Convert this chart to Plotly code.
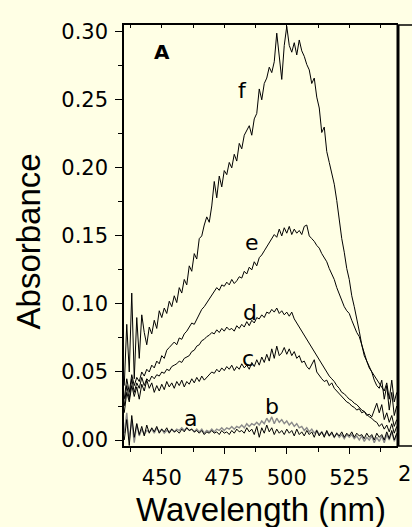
import plotly.graph_objects as go

wavelength = list(range(435, 545))

abs_f = [0.040, 0.085, 0.050, 0.108, 0.045, 0.090, 0.060, 0.092, 0.079, 0.070,
         0.083, 0.078, 0.088, 0.082, 0.095, 0.090, 0.097, 0.093, 0.102, 0.098,
         0.106, 0.101, 0.112, 0.108, 0.118, 0.114, 0.128, 0.124, 0.137, 0.133,
         0.148, 0.150, 0.158, 0.164, 0.160, 0.172, 0.190, 0.178, 0.194, 0.186,
         0.198, 0.195, 0.204, 0.200, 0.210, 0.205, 0.218, 0.214, 0.224, 0.228,
         0.231, 0.224, 0.236, 0.240, 0.258, 0.250, 0.262, 0.266, 0.274, 0.270,
         0.278, 0.299, 0.283, 0.265, 0.290, 0.304, 0.290, 0.285, 0.292, 0.283,
         0.294, 0.286, 0.282, 0.276, 0.272, 0.262, 0.266, 0.252, 0.244, 0.226,
         0.230, 0.212, 0.204, 0.196, 0.188, 0.176, 0.160, 0.148, 0.138, 0.126,
         0.118, 0.106, 0.098, 0.090, 0.080, 0.070, 0.062, 0.058, 0.054, 0.050,
         0.044, 0.040, 0.038, 0.044, 0.030, 0.040, 0.022, 0.035, 0.018, 0.025]

abs_e = [0.030, 0.045, 0.035, 0.048, 0.040, 0.046, 0.043, 0.050, 0.047, 0.052,
         0.050, 0.055, 0.053, 0.058, 0.056, 0.062, 0.060, 0.066, 0.068, 0.070,
         0.072, 0.070, 0.075, 0.074, 0.078, 0.080, 0.083, 0.086, 0.085, 0.089,
         0.093, 0.096, 0.098, 0.101, 0.104, 0.107, 0.110, 0.112, 0.110, 0.114,
         0.113, 0.116, 0.114, 0.118, 0.115, 0.117, 0.120, 0.119, 0.124, 0.122,
         0.127, 0.125, 0.131, 0.128, 0.134, 0.136, 0.139, 0.142, 0.145, 0.148,
         0.151, 0.149, 0.155, 0.150, 0.156, 0.152, 0.157, 0.151, 0.155, 0.152,
         0.154, 0.151, 0.157, 0.158, 0.150, 0.148, 0.146, 0.143, 0.141, 0.137,
         0.134, 0.131, 0.126, 0.122, 0.118, 0.112, 0.107, 0.102, 0.098, 0.095,
         0.093, 0.088, 0.083, 0.079, 0.076, 0.070, 0.063, 0.058, 0.053, 0.050,
         0.047, 0.044, 0.041, 0.039, 0.036, 0.042, 0.030, 0.044, 0.028, 0.035]

abs_d = [0.025, 0.040, 0.030, 0.045, 0.035, 0.042, 0.038, 0.046, 0.040, 0.045,
         0.043, 0.047, 0.045, 0.048, 0.047, 0.050, 0.049, 0.052, 0.051, 0.054,
         0.055, 0.056, 0.058, 0.057, 0.060, 0.061, 0.062, 0.065, 0.066, 0.069,
         0.070, 0.073, 0.074, 0.076, 0.077, 0.079, 0.078, 0.081, 0.079, 0.082,
         0.080, 0.083, 0.081, 0.082, 0.080, 0.084, 0.082, 0.085, 0.083, 0.087,
         0.084, 0.088, 0.086, 0.090, 0.089, 0.092, 0.090, 0.094, 0.093, 0.096,
         0.094, 0.097, 0.093, 0.095, 0.092, 0.094, 0.091, 0.094, 0.089, 0.086,
         0.083, 0.079, 0.077, 0.074, 0.070, 0.068, 0.064, 0.062, 0.059, 0.055,
         0.052, 0.049, 0.047, 0.045, 0.043, 0.040, 0.038, 0.035, 0.034, 0.032,
         0.030, 0.029, 0.027, 0.026, 0.024, 0.022, 0.021, 0.019, 0.017, 0.016,
         0.014, 0.013, 0.010, 0.012, 0.008, 0.011, 0.006, 0.012, 0.005, 0.010]

abs_c = [0.020, 0.035, 0.028, 0.040, 0.032, 0.039, 0.030, 0.041, 0.036, 0.044,
         0.038, 0.042, 0.035, 0.040, 0.036, 0.041, 0.037, 0.043, 0.039, 0.042,
         0.038, 0.043, 0.040, 0.044, 0.039, 0.043, 0.041, 0.045, 0.042, 0.046,
         0.043, 0.047, 0.044, 0.046, 0.048, 0.050, 0.049, 0.052, 0.050, 0.053,
         0.051, 0.054, 0.052, 0.055, 0.051, 0.054, 0.052, 0.056, 0.053, 0.055,
         0.052, 0.057, 0.054, 0.059, 0.055, 0.061, 0.057, 0.063, 0.058, 0.067,
         0.060, 0.069, 0.062, 0.064, 0.068, 0.063, 0.067, 0.062, 0.065, 0.060,
         0.062, 0.057, 0.058, 0.054, 0.052, 0.055, 0.059, 0.050, 0.047, 0.045,
         0.043, 0.044, 0.040, 0.042, 0.038, 0.036, 0.034, 0.032, 0.030, 0.028,
         0.027, 0.025, 0.024, 0.022, 0.023, 0.020, 0.021, 0.018, 0.019, 0.017,
         0.022, 0.027, 0.020, 0.026, 0.015, 0.020, 0.013, 0.018, 0.010, 0.015]

abs_b = [0.005, 0.020, 0.000, 0.015, -0.002, 0.012, 0.003, 0.008, 0.004, 0.007,
         0.006, 0.008, 0.005, 0.009, 0.006, 0.008, 0.005, 0.007, 0.006, 0.008,
         0.006, 0.008, 0.007, 0.009, 0.007, 0.009, 0.007, 0.008, 0.006, 0.008,
         0.006, 0.008, 0.005, 0.007, 0.006, 0.008, 0.006, 0.008, 0.007, 0.009,
         0.007, 0.009, 0.008, 0.010, 0.008, 0.010, 0.009, 0.011, 0.009, 0.012,
         0.010, 0.012, 0.011, 0.013, 0.011, 0.014, 0.012, 0.016, 0.013, 0.017,
         0.012, 0.016, 0.013, 0.015, 0.012, 0.014, 0.011, 0.013, 0.010, 0.012,
         0.009, 0.010, 0.007, 0.009, 0.006, 0.008, 0.005, 0.007, 0.004, 0.006,
         0.003, 0.006, 0.003, 0.005, 0.002, 0.005, 0.002, 0.004, 0.001, 0.004,
         0.002, 0.004, 0.001, 0.003, 0.000, 0.003, -0.001, 0.002, 0.000, 0.003,
         -0.002, 0.002, -0.001, 0.003, -0.002, 0.004, 0.000, 0.006, -0.001, 0.004]

abs_a = [0.000, 0.015, -0.004, 0.018, 0.002, 0.012, 0.004, 0.010, 0.003, 0.011,
         0.005, 0.009, 0.006, 0.010, 0.005, 0.008, 0.006, 0.009, 0.005, 0.008,
         0.006, 0.007, 0.005, 0.008, 0.006, 0.009, 0.007, 0.008, 0.006, 0.007,
         0.005, 0.007, 0.004, 0.006, 0.005, 0.007, 0.005, 0.006, 0.004, 0.007,
         0.005, 0.006, 0.004, 0.007, 0.005, 0.008, 0.006, 0.007, 0.005, 0.009,
         0.006, 0.008, 0.004, 0.010, 0.002, 0.009, 0.005, 0.011, 0.006, 0.009,
         0.004, 0.008, 0.005, 0.007, 0.004, 0.008, 0.005, 0.007, 0.003, 0.008,
         0.004, 0.006, 0.003, 0.007, 0.004, 0.006, 0.002, 0.007, 0.003, 0.006,
         0.002, 0.007, 0.003, 0.006, 0.002, 0.005, 0.003, 0.006, 0.002, 0.005,
         0.003, 0.006, 0.002, 0.005, 0.003, 0.004, 0.001, 0.005, 0.002, 0.004,
         0.000, 0.005, 0.002, 0.004, 0.000, 0.006, 0.001, 0.007, 0.000, 0.005]

curve_labels = ["a", "b", "c", "d", "e", "f"]
label_x = [461.3, 494.0, 484.6, 485.3, 486.0, 482.4]
label_y = [0.016, 0.025, 0.060, 0.094, 0.145, 0.257]

y_ticks = [0.00, 0.05, 0.10, 0.15, 0.20, 0.25, 0.30]
x_ticks = [450, 475, 500, 525]

BG = "#FFFFE5"
FONT = "Liberation Sans, Arial, sans-serif"
TICKFONT = "DejaVu Sans, sans-serif"

fig = go.Figure()
series = [(abs_b, "#8a8a8a", 1.4), (abs_a, "black", 1.0), (abs_c, "black", 1.0),
          (abs_d, "black", 1.0), (abs_e, "black", 1.0), (abs_f, "black", 1.0)]
for vals, col, w in series:
    fig.add_trace(go.Scatter(x=wavelength, y=vals, mode="lines",
                             line=dict(color=col, width=w), showlegend=False,
                             hoverinfo="skip"))
fig.add_trace(go.Scatter(x=[wavelength[0]], y=[None], xaxis="x2", mode="lines",
                         showlegend=False, hoverinfo="skip"))

for t, lx, ly in zip(curve_labels, label_x, label_y):
    fig.add_annotation(x=lx, y=ly, text=t, showarrow=False,
                       font=dict(family=TICKFONT, size=22, color="black"),
                       xanchor="center", yanchor="middle")
fig.add_annotation(x=450, y=0.2855, text="<b>A</b>", showarrow=False,
                   font=dict(family=TICKFONT, size=20, color="black"),
                   xanchor="center", yanchor="middle")
# first tick label of the neighbouring (cropped) panel
fig.add_annotation(xref="paper", yref="paper", x=1.055, y=-0.066, text="2",
                   showarrow=False, xanchor="right", yanchor="middle",
                   font=dict(family=TICKFONT, size=21, color="black"))
# axis titles
fig.add_annotation(xref="paper", yref="paper", x=0.5, y=-0.150,
                   text="Wavelength (nm)", showarrow=False,
                   xanchor="center", yanchor="middle",
                   font=dict(family=FONT, size=33, color="black"))
fig.add_annotation(xref="paper", yref="paper", x=-0.345, y=0.487,
                   text="Absorbance", showarrow=False, textangle=-90,
                   xanchor="center", yanchor="middle",
                   font=dict(family=FONT, size=33, color="black"))

xr = [434.9, 544.5]
fig.update_layout(
    width=412, height=527,
    margin=dict(l=124, r=14, t=25, b=81),
    paper_bgcolor=BG, plot_bgcolor=BG,
    font=dict(family=FONT, color="black"),
    xaxis=dict(range=xr, tickvals=x_ticks, ticks="outside", ticklen=6,
               tickwidth=1.2, tickcolor="black", showline=True, linecolor="black",
               linewidth=1.5, showgrid=False, zeroline=False,
               tickfont=dict(family=TICKFONT, size=21), ticklabelstandoff=6,
               minor=dict(tick0=437.5, dtick=12.5, ticks="outside", ticklen=4,
                          tickcolor="black", tickwidth=1.2, showgrid=False)),
    xaxis2=dict(range=xr, overlaying="x", side="top", anchor="y",
                tick0=437.5, dtick=12.5, ticks="inside", ticklen=3,
                tickcolor="black", showticklabels=False, showline=True,
                linecolor="black", linewidth=1.5, showgrid=False, zeroline=False),
    yaxis=dict(range=[-0.0044, 0.305], tickvals=y_ticks, tickformat=".2f",
               ticks="outside", ticklen=7, tickwidth=1.2, tickcolor="black",
               showline=True, linecolor="black", linewidth=1.5, showgrid=False,
               zeroline=False, tickfont=dict(family=TICKFONT, size=21),
               ticklabelstandoff=3,
               minor=dict(dtick=0.025, tick0=0, ticks="outside", ticklen=4,
                          tickcolor="black", tickwidth=1.2, showgrid=False)),
)

# right frame of the panel and the start of the neighbouring panel
fig.add_shape(type="line", xref="paper", yref="paper", x0=1, x1=1, y0=0, y1=1,
              line=dict(color="black", width=3))
fig.add_shape(type="line", xref="paper", yref="paper", x0=1, x1=1.06, y0=1, y1=1,
              line=dict(color="black", width=1.5))
fig.add_shape(type="line", xref="paper", yref="paper", x0=1, x1=1.06, y0=0, y1=0,
              line=dict(color="black", width=1.5))

fig.write_html("out.html", config={"displayModeBar": False},
               post_script="document.body.style.margin='0px';"
                           "document.body.style.background='" + BG + "';")
